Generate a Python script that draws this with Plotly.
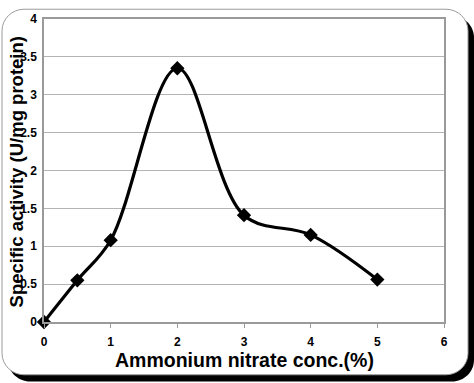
import plotly.graph_objects as go

conc = [0, 0.5, 1, 2, 3, 4, 5]
activity = [0, 0.55, 1.08, 3.35, 1.41, 1.15, 0.56]
x_ticks = [0, 1, 2, 3, 4, 5, 6]
y_ticks = [0, 0.5, 1, 1.5, 2, 2.5, 3, 3.5, 4]
y_tick_labels = ["0", "0.5", "1", "1.5", "2", "2.5", "3", "3.5", "4"]

W, H = 474, 383
L, R, T, B = 44, 444, 12, 322

def px(x):
    return (x - L) / (R - L)

def py(y):
    return (B - y) / (B - T)

def rounded(x0, y0, x1, y1, r):
    k = 0.45 * r
    pts = [
        f"M {px(x0 + r)} {py(y0)}",
        f"L {px(x1 - r)} {py(y0)}",
        f"C {px(x1 - k)} {py(y0)} {px(x1)} {py(y0 + k)} {px(x1)} {py(y0 + r)}",
        f"L {px(x1)} {py(y1 - r)}",
        f"C {px(x1)} {py(y1 - k)} {px(x1 - k)} {py(y1)} {px(x1 - r)} {py(y1)}",
        f"L {px(x0 + r)} {py(y1)}",
        f"C {px(x0 + k)} {py(y1)} {px(x0)} {py(y1 - k)} {px(x0)} {py(y1 - r)}",
        f"L {px(x0)} {py(y0 + r)}",
        f"C {px(x0)} {py(y0 + k)} {px(x0 + k)} {py(y0)} {px(x0 + r)} {py(y0)}",
        "Z",
    ]
    return " ".join(pts)

fig = go.Figure()
fig.add_trace(go.Scatter(
    x=conc, y=activity, mode="lines+markers",
    line=dict(color="black", width=3.2, shape="spline", smoothing=1.0),
    marker=dict(symbol="diamond", size=11, color="black"),
    showlegend=False, cliponaxis=False,
))

shapes = [
    dict(type="path", xref="paper", yref="paper", path=rounded(8, 9, 474, 383, 22),
         fillcolor="black", line=dict(width=0), layer="below"),
    dict(type="path", xref="paper", yref="paper", path=rounded(2, 2, 468, 376, 22),
         fillcolor="white", line=dict(color="#9a9a9a", width=1), layer="below"),
]

fig.update_layout(
    width=W, height=H,
    margin=dict(l=L, r=W - R, t=T, b=H - B, pad=0),
    paper_bgcolor="white", plot_bgcolor="rgba(0,0,0,0)",
    font=dict(family="Liberation Sans, Arial", color="black"),
    shapes=shapes,
    xaxis=dict(range=[0, 6], tickvals=x_ticks, showgrid=False, zeroline=False,
               showline=True, linecolor="#9a9a9a", linewidth=1.5, mirror=True,
               ticks="outside", ticklen=4, tickcolor="#9a9a9a",
               ticklabelstandoff=4,
               tickfont=dict(size=12, weight="bold")),
    yaxis=dict(range=[0, 4], tickvals=y_ticks, ticktext=y_tick_labels,
               showgrid=True, gridcolor="#b4b4b4", gridwidth=1.2, zeroline=False,
               showline=True, linecolor="#9a9a9a", linewidth=1.5, mirror=True,
               ticks="", ticklabelstandoff=3,
               tickfont=dict(size=12, weight="bold")),
    annotations=[
        dict(text="Specific activity (U/mg protein)", textangle=-90,
             xref="paper", yref="paper", x=px(16), y=py(169),
             xanchor="center", yanchor="middle",
             showarrow=False, font=dict(size=18.5, weight="bold")),
        dict(text="Ammonium nitrate conc.(%)",
             xref="paper", yref="paper", x=px(245), y=py(361),
             xanchor="center", yanchor="middle",
             showarrow=False, font=dict(size=19.5, weight="bold")),
    ],
)

fig.write_html("out.html", config={"displayModeBar": False},
               post_script="document.body.style.margin='0';document.body.style.overflow='hidden';")
